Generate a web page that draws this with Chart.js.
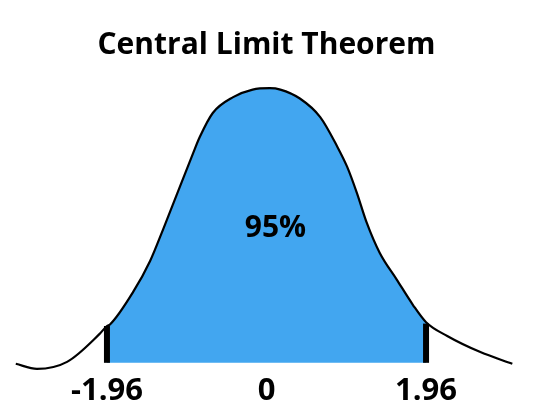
<!DOCTYPE html>
<html>
<head>
<meta charset="utf-8">
<script src="https://cdn.jsdelivr.net/npm/chart.js@4/dist/chart.umd.min.js"></script>
<style>
  html, body { margin: 0; padding: 0; background: #ffffff; }
  #wrap { width: 534px; height: 420px; }
</style>
</head>
<body>
<div id="wrap"><canvas id="c" width="534" height="420"></canvas></div>
<script>
// ---- data ----
const chartTitle = 'Central Limit Theorem';
const areaLabel = '95%';
const areaLabelPos = [0.11, 0.195];          // (z, density) where the label sits
const curveZ = [-3.08, -2.82, -2.45, -2.05, -1.96, -1.92, -1.64, -1.43, -1.27, -1.06, -0.90, -0.82, -0.66, -0.41, -0.17, 0.04, 0.17, 0.41, 0.66, 0.87, 0.99, 1.11, 1.23, 1.39, 1.60, 1.80, 1.96, 2.22, 2.62, 3.02];
const curveDensity = [-0.0014, -0.0087, 0.0014, 0.042, 0.0535, 0.056, 0.1026, 0.148, 0.194, 0.257, 0.305, 0.328, 0.363, 0.386, 0.397, 0.399, 0.397, 0.384, 0.357, 0.314, 0.285, 0.247, 0.204, 0.160, 0.121, 0.084, 0.059, 0.039, 0.016, -0.0014];
const boundZ = [-1.96, 1.96];
const boundHeight = [0.0535, 0.057];
const tickValues = [-1.96, 0, 1.96];
const tickLabels = ['-1.96', '0', '1.96'];

// ---- build datasets ----
const curvePoints = curveZ.map((z, i) => ({ x: z, y: curveDensity[i] }));
const areaPoints = curvePoints.filter(p => p.x >= boundZ[0] && p.x <= boundZ[1]);
const boundSets = boundZ.map((z, i) => ({
  data: [{ x: z, y: 0 }, { x: z, y: boundHeight[i] }],
  borderColor: '#000000',
  borderWidth: 6,
  borderCapStyle: 'butt',
  pointRadius: 0,
  fill: false,
  tension: 0,
  clip: false
}));

const labelPlugin = {
  id: 'areaLabel',
  afterDatasetsDraw(chart) {
    const { ctx, scales } = chart;
    ctx.save();
    ctx.font = 'bold 30px "Open Sans"';
    ctx.fillStyle = '#000000';
    ctx.textAlign = 'center';
    ctx.textBaseline = 'middle';
    ctx.fillText(areaLabel, scales.x.getPixelForValue(areaLabelPos[0]), scales.y.getPixelForValue(areaLabelPos[1]));
    ctx.restore();
  }
};

new Chart(document.getElementById('c'), {
  type: 'line',
  data: {
    datasets: [
      ...boundSets,
      {
        data: curvePoints,
        borderColor: '#000000',
        borderWidth: 2.2,
        pointRadius: 0,
        fill: false,
        cubicInterpolationMode: 'monotone',
        clip: false
      },
      {
        data: areaPoints,
        borderWidth: 0,
        borderColor: 'rgba(0,0,0,0)',
        backgroundColor: 'rgb(66,166,240)',
        pointRadius: 0,
        fill: 'origin',
        cubicInterpolationMode: 'monotone',
        clip: false
      }
    ]
  },
  options: {
    responsive: false,
    animation: false,
    layout: { padding: { left: 14.16, right: 15.16, top: 0, bottom: 8 } },
    plugins: {
      legend: { display: false },
      tooltip: { enabled: false },
      title: {
        display: true,
        text: chartTitle,
        color: '#000000',
        font: { family: '"Open Sans"', size: 30, weight: 'bold', lineHeight: 1.2 },
        padding: { top: 27.5, bottom: 9.9 }
      }
    },
    scales: {
      x: {
        type: 'linear',
        min: -3.1,
        max: 3.1,
        grid: { display: false, drawTicks: false },
        border: { display: false },
        afterBuildTicks: (scale) => { scale.ticks = tickValues.map(v => ({ value: v })); },
        ticks: {
          color: '#000000',
          padding: 2,
          font: { family: '"Open Sans"', size: 31, weight: 'bold', lineHeight: 1.2 },
          callback: (value) => tickLabels[tickValues.indexOf(value)],
          maxRotation: 0,
          autoSkip: false
        }
      },
      y: {
        display: false,
        min: -0.0116,
        max: 0.4205
      }
    }
  },
  plugins: [labelPlugin]
});
</script>
</body>
</html>
